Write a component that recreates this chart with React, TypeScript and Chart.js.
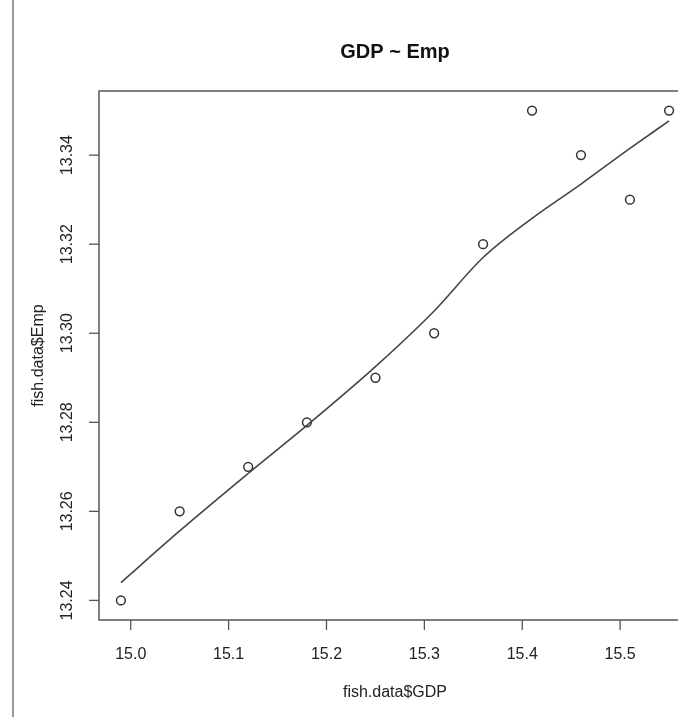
import React, { useEffect, useRef } from "react";
import { Chart, registerables } from "chart.js";

Chart.register(...registerables);

const chartTitle = "GDP ~ Emp";
const xTitle = "fish.data$GDP";
const yTitle = "fish.data$Emp";

const gdp = [14.99, 15.05, 15.12, 15.18, 15.25, 15.31, 15.36, 15.41, 15.46, 15.51, 15.55];
const emp = [13.24, 13.26, 13.27, 13.28, 13.29, 13.3, 13.32, 13.35, 13.34, 13.33, 13.35];
const smoothEmp = [13.244, 13.2556, 13.2685, 13.2793, 13.2925, 13.305, 13.317, 13.3258, 13.3335, 13.3415, 13.3477];

const xTicks = [15.0, 15.1, 15.2, 15.3, 15.4, 15.5];
const xTickLabels = ["15.0", "15.1", "15.2", "15.3", "15.4", "15.5"];
const yTicks = [13.24, 13.26, 13.28, 13.3, 13.32, 13.34];
const yTickLabels = ["13.24", "13.26", "13.28", "13.30", "13.32", "13.34"];

const xMin = 14.9676;
const xMax = 15.5724;
const yMin = 13.2356;
const yMax = 13.3544;

const FONT = "'Liberation Sans', Arial, Helvetica, sans-serif";

const rAxesPlugin = {
  id: "rAxes",
  afterDraw(chart: any) {
    const ctx = chart.ctx as CanvasRenderingContext2D;
    const area = chart.chartArea;
    const xs = chart.scales.x;
    const ys = chart.scales.y;
    ctx.save();
    // left page rule
    ctx.strokeStyle = "#777";
    ctx.lineWidth = 1.5;
    ctx.beginPath();
    ctx.moveTo(13, 0);
    ctx.lineTo(13, chart.height);
    ctx.stroke();

    // box
    ctx.strokeStyle = "#555";
    ctx.lineWidth = 1.5;
    ctx.strokeRect(area.left, area.top, area.right - area.left, area.bottom - area.top);

    // ticks
    ctx.strokeStyle = "#555";
    ctx.lineWidth = 1.3;
    ctx.fillStyle = "#222";
    ctx.font = `16px ${FONT}`;
    ctx.textAlign = "center";
    ctx.textBaseline = "alphabetic";
    xTicks.forEach((v, i) => {
      const px = xs.getPixelForValue(v);
      ctx.beginPath();
      ctx.moveTo(px, area.bottom);
      ctx.lineTo(px, area.bottom + 10);
      ctx.stroke();
      ctx.fillText(xTickLabels[i], px, area.bottom + 38.5);
    });
    yTicks.forEach((v, i) => {
      const py = ys.getPixelForValue(v);
      ctx.beginPath();
      ctx.moveTo(area.left, py);
      ctx.lineTo(area.left - 10, py);
      ctx.stroke();
      ctx.save();
      ctx.translate(area.left - 27, py);
      ctx.rotate(-Math.PI / 2);
      ctx.fillText(yTickLabels[i], 0, 0);
      ctx.restore();
    });

    // axis titles
    const cx = (area.left + area.right) / 2;
    const cy = (area.top + area.bottom) / 2;
    ctx.fillText(xTitle, cx, area.bottom + 77);
    ctx.save();
    ctx.translate(area.left - 56, cy);
    ctx.rotate(-Math.PI / 2);
    ctx.fillText(yTitle, 0, 0);
    ctx.restore();

    // main title
    ctx.fillStyle = "#111";
    ctx.font = `bold 20px ${FONT}`;
    ctx.fillText(chartTitle, cx, 58);
    ctx.restore();
  },
};

export default function App() {
  const ref = useRef<HTMLCanvasElement | null>(null);
  useEffect(() => {
    if (!ref.current) return;
    const points = gdp.map((x, i) => ({ x, y: emp[i] }));
    const smooth = gdp.map((x, i) => ({ x, y: smoothEmp[i] }));
    const chart = new Chart(ref.current, {
      type: "scatter",
      data: {
        datasets: [
          {
            label: "lowess",
            data: smooth,
            showLine: true,
            borderColor: "#444",
            borderWidth: 1.6,
            pointRadius: 0,
            cubicInterpolationMode: "monotone",
            fill: false,
          } as any,
          {
            label: "points",
            data: points,
            pointStyle: "circle",
            pointRadius: 4.4,
            pointBorderWidth: 1.5,
            borderColor: "#333",
            backgroundColor: "rgba(0,0,0,0)",
            pointBackgroundColor: "rgba(0,0,0,0)",
            pointBorderColor: "#333",
            showLine: false,
          } as any,
        ],
      },
      options: {
        responsive: false,
        animation: false,
        devicePixelRatio: 1,
        layout: { padding: { left: 99, top: 91, right: 9, bottom: 97 } },
        scales: {
          x: { type: "linear", min: xMin, max: xMax, display: false },
          y: { type: "linear", min: yMin, max: yMax, display: false },
        },
        plugins: {
          legend: { display: false },
          tooltip: { enabled: false },
          title: { display: false },
        },
      },
      plugins: [rAxesPlugin],
    });
    return () => chart.destroy();
  }, []);
  return (
    <div
      style={{
        position: "absolute",
        left: 0,
        top: 0,
        width: 678,
        height: 717,
        overflow: "hidden",
        background: "#fff",
      }}
    >
      <canvas ref={ref} width={700} height={717} style={{ width: 700, height: 717, display: "block" }} />
    </div>
  );
}
